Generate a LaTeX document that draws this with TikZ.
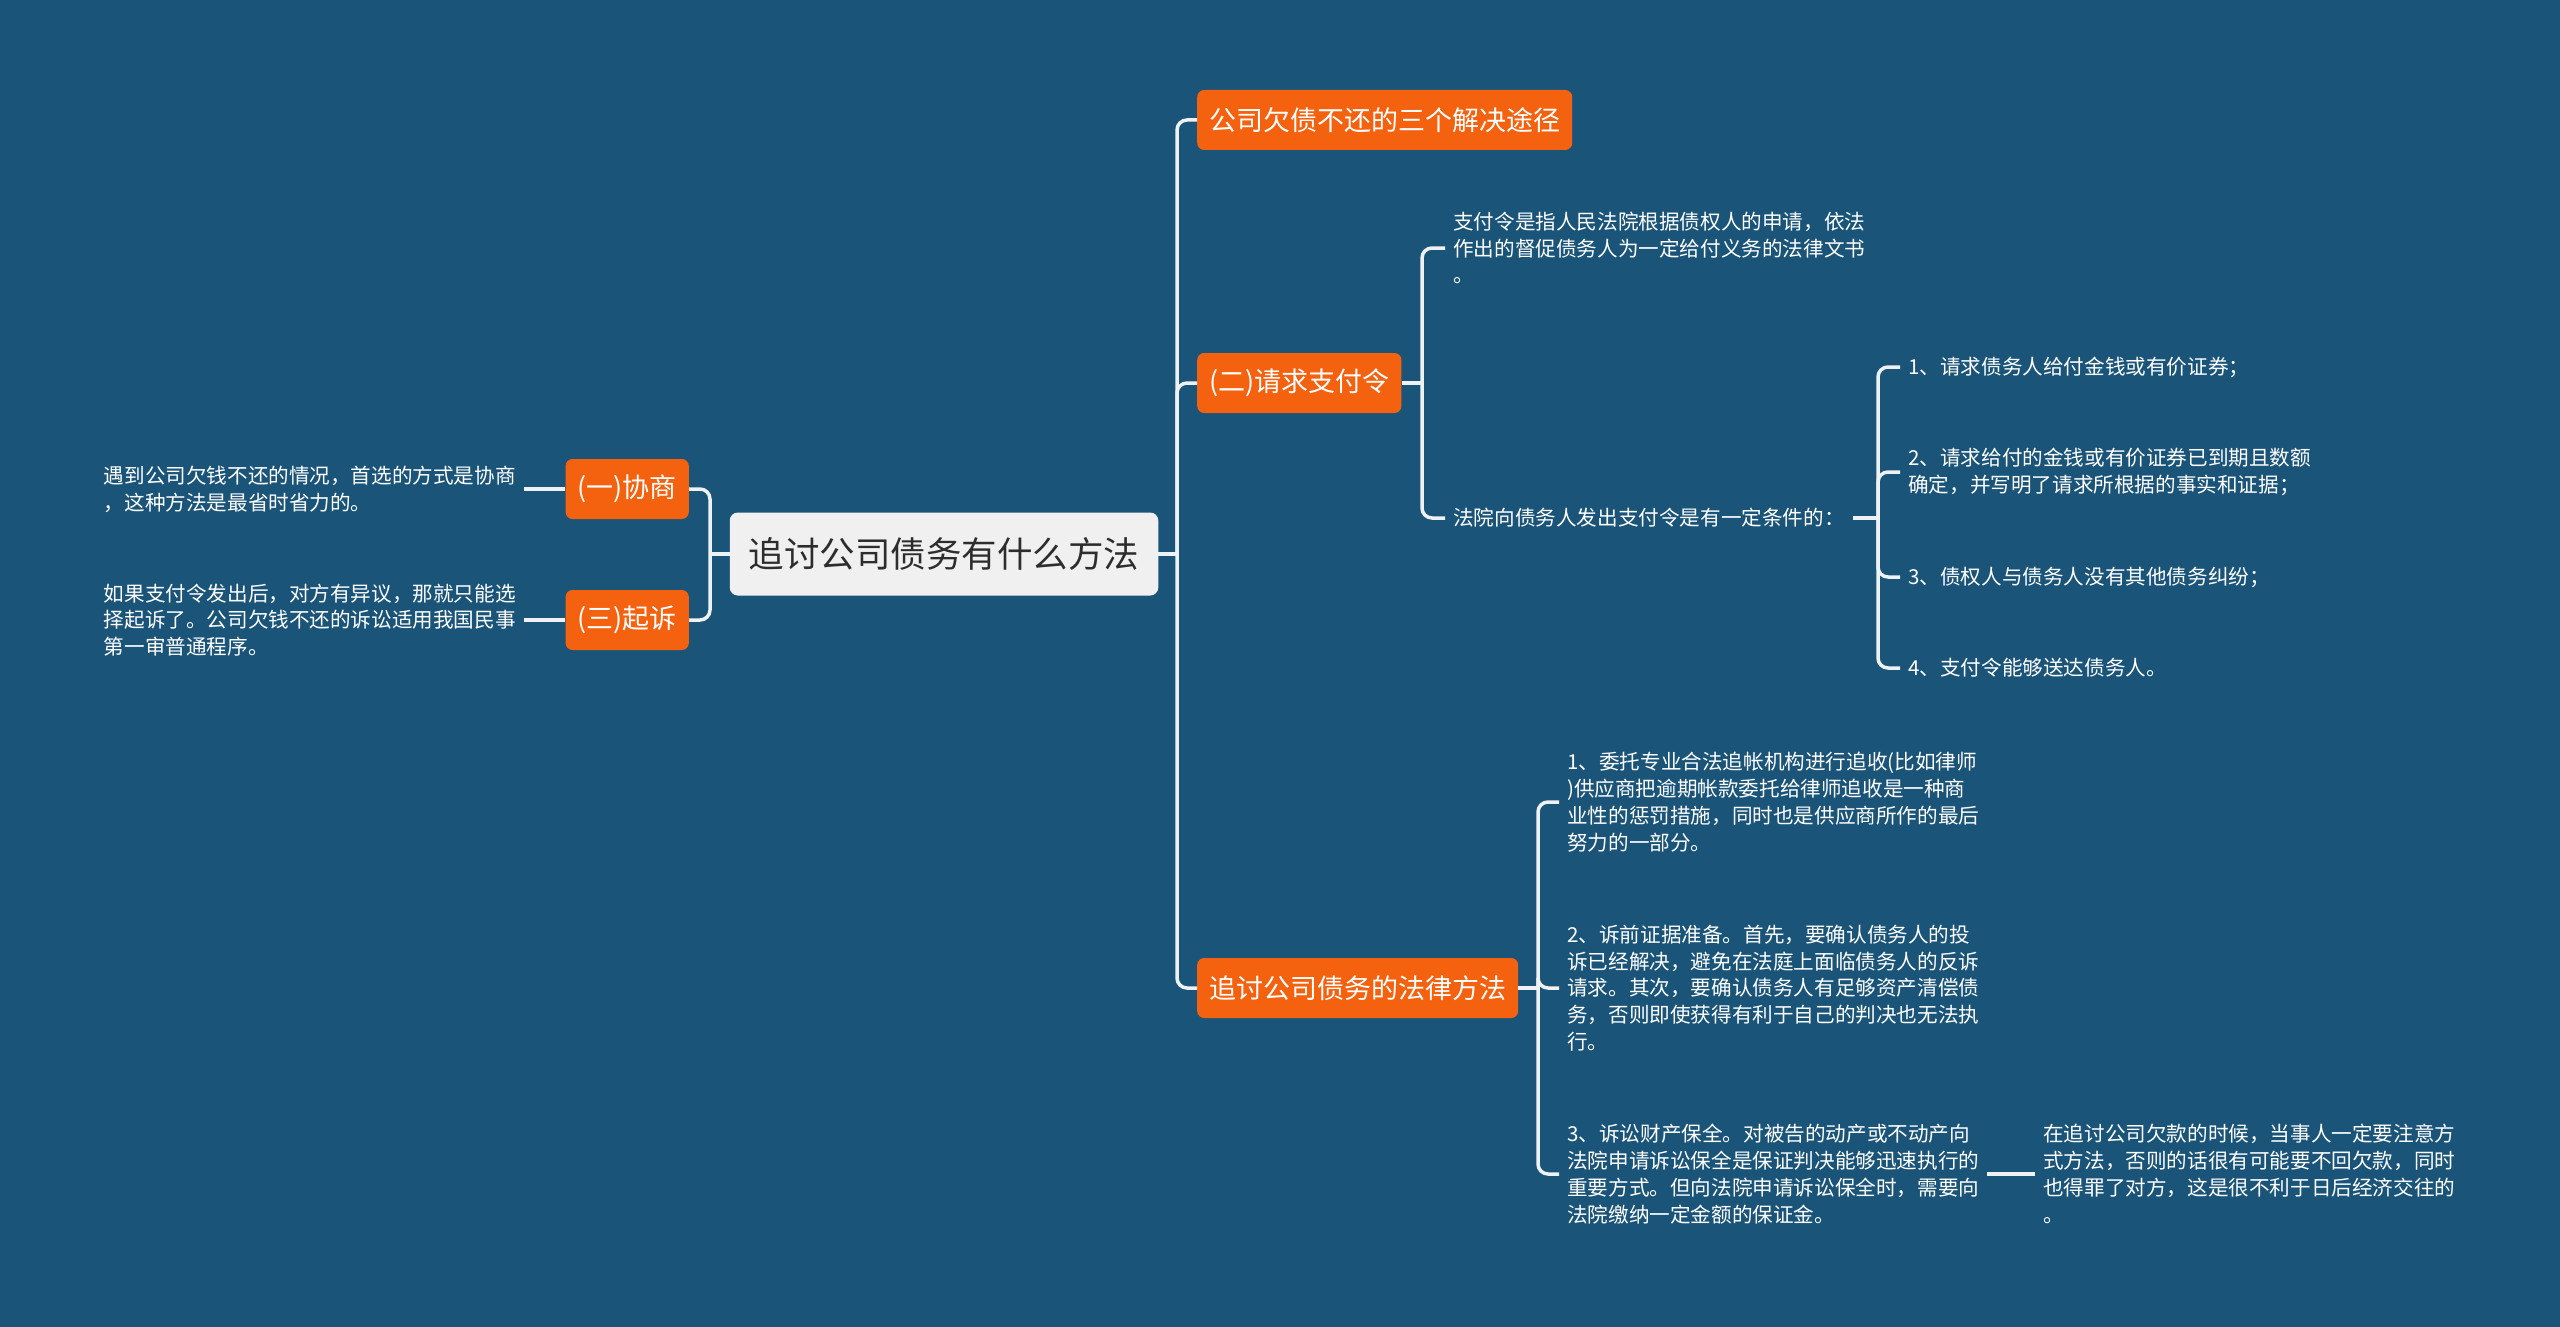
\documentclass[tikz,border=0pt]{standalone}
\usepackage{fontspec}
\setmainfont{Noto Sans CJK SC}
\definecolor{bgblue}{RGB}{26,84,121}
\definecolor{orangebox}{RGB}{245,98,15}
\definecolor{rootfill}{RGB}{240,240,240}
\definecolor{roottext}{RGB}{45,45,45}
\definecolor{linecol}{RGB}{238,242,245}
\tikzset{
  rootbox/.style={fill=rootfill, text=roottext, rounded corners=8pt, minimum height=83pt, inner xsep=19pt, inner ysep=0pt, font=\fontsize{35.5pt}{42pt}\selectfont},
  orangenode/.style={fill=orangebox, text=white, rounded corners=7pt, minimum height=60pt, inner xsep=12pt, inner ysep=0pt, font=\fontsize{27pt}{32pt}\selectfont},
  leaftext/.style={text=white, align=left, inner xsep=8pt, inner ysep=2pt, font=\fontsize{20.6pt}{26.8pt}\selectfont},
  conn/.style={draw=linecol, line width=3.5pt, rounded corners=10pt},
}
\begin{document}
\begin{tikzpicture}[x=1pt,y=-1pt]
\fill[bgblue] (0,0) rectangle (2560,1327);
\useasboundingbox (0,0) rectangle (2560,1327);

% nodes
\node[rootbox] (root) at (944,554) {追讨公司债务有什么方法};

\node[orangenode, anchor=west] (top) at (1197,120) {公司欠债不还的三个解决途径};
\node[orangenode, anchor=west] (er) at (1197,383) {(二)请求支付令};
\node[orangenode, anchor=west] (law) at (1197,988) {追讨公司债务的法律方法};
\node[orangenode, anchor=east] (xs) at (689,489) {(一)协商};
\node[orangenode, anchor=east] (qs) at (689,620) {(三)起诉};

\node[leaftext, anchor=east] (lt1) at (524,489) {遇到公司欠钱不还的情况，首选的方式是协商\\，这种方法是最省时省力的。};
\node[leaftext, anchor=east] (lt2) at (524,620) {如果支付令发出后，对方有异议，那就只能选\\择起诉了。公司欠钱不还的诉讼适用我国民事\\第一审普通程序。};

\node[leaftext, anchor=west] (t21) at (1445,248) {支付令是指人民法院根据债权人的申请，依法\\作出的督促债务人为一定给付义务的法律文书\\。};
\node[leaftext, anchor=west] (t22) at (1445,518) {法院向债务人发出支付令是有一定条件的：};

\node[leaftext, anchor=west] (c1) at (1900,367) {1、请求债务人给付金钱或有价证券；};
\node[leaftext, anchor=west] (c2) at (1900,472) {2、请求给付的金钱或有价证券已到期且数额\\确定，并写明了请求所根据的事实和证据；};
\node[leaftext, anchor=west] (c3) at (1900,577) {3、债权人与债务人没有其他债务纠纷；};
\node[leaftext, anchor=west] (c4) at (1900,668) {4、支付令能够送达债务人。};

\node[leaftext, anchor=west] (l1) at (1559,802) {1、委托专业合法追帐机构进行追收(比如律师\\)供应商把逾期帐款委托给律师追收是一种商\\业性的惩罚措施，同时也是供应商所作的最后\\努力的一部分。};
\node[leaftext, anchor=west] (l2) at (1559,988) {2、诉前证据准备。首先，要确认债务人的投\\诉已经解决，避免在法庭上面临债务人的反诉\\请求。其次，要确认债务人有足够资产清偿债\\务，否则即使获得有利于自己的判决也无法执\\行。};
\node[leaftext, anchor=west] (l3) at (1559,1174) {3、诉讼财产保全。对被告的动产或不动产向\\法院申请诉讼保全是保证判决能够迅速执行的\\重要方式。但向法院申请诉讼保全时，需要向\\法院缴纳一定金额的保证金。};
\node[leaftext, anchor=west] (l3c) at (2035,1174) {在追讨公司欠款的时候，当事人一定要注意方\\式方法，否则的话很有可能要不回欠款，同时\\也得罪了对方，这是很不利于日后经济交往的\\。};

% junction coordinates
\coordinate (rj) at (1177,554);
\coordinate (lj) at (710,554);
\coordinate (j2) at (1422,383);
\coordinate (j22) at (1878,518);
\coordinate (jl) at (1538,988);

% connectors
\draw[conn] (root.east) -- (rj);
\draw[conn] (rj) |- (top.west);
\draw[conn] (rj) |- (er.west);
\draw[conn] (rj) |- (law.west);

\draw[conn] (root.west) -- (lj);
\draw[conn] (lj) |- (xs.east);
\draw[conn] (lj) |- (qs.east);
\draw[conn] (xs.west) -- (lt1.east);
\draw[conn] (qs.west) -- (lt2.east);

\draw[conn] (er.east) -- (j2);
\draw[conn] (j2) |- (t21.west);
\draw[conn] (j2) |- (t22.west);

\draw[conn] (t22.east) -- (j22);
\draw[conn] (j22) |- (c1.west);
\draw[conn] (j22) |- (c2.west);
\draw[conn] (j22) |- (c3.west);
\draw[conn] (j22) |- (c4.west);

\draw[conn] (law.east) -- (jl);
\draw[conn] (jl) |- (l1.west);
\draw[conn] (jl) |- (l2.west);
\draw[conn] (jl) |- (l3.west);

\draw[conn] (l3.east) -- (l3c.west);
\end{tikzpicture}
\end{document}
